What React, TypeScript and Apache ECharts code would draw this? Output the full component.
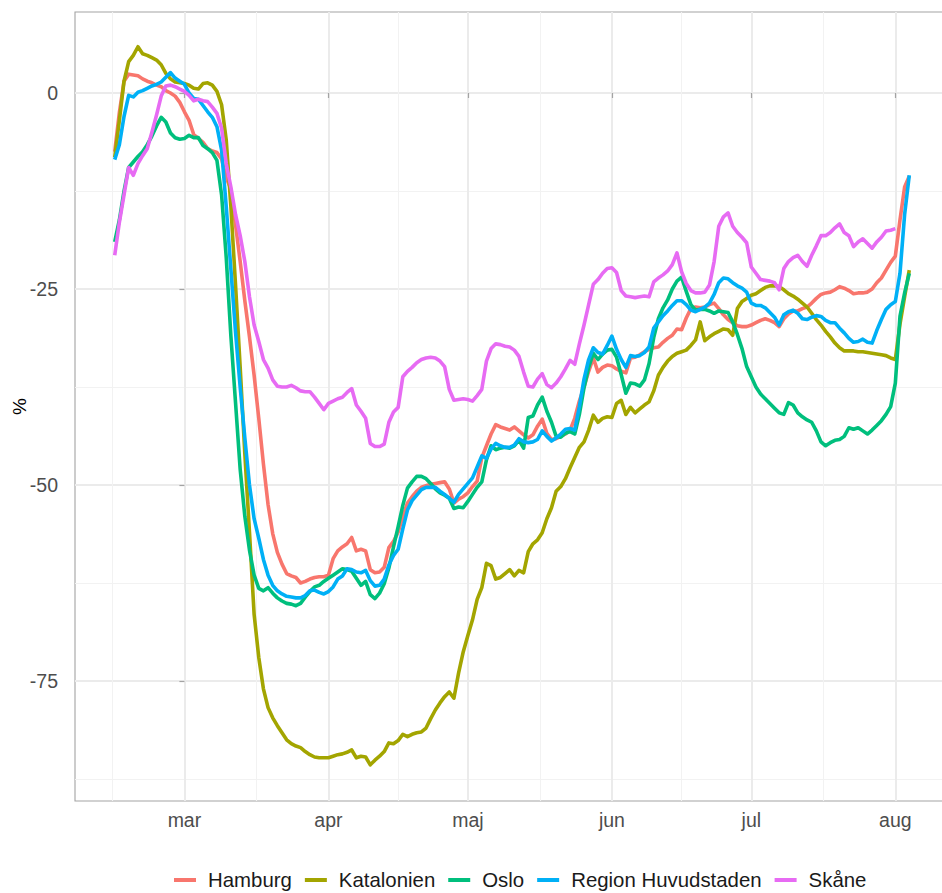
import React, { useEffect, useRef } from "react";
import * as echarts from "echarts";

const FONT = '"Liberation Sans", Arial, Helvetica, sans-serif';

// Daily values, first day 2020-02-15. The x axis counts days from 2020-03-01.
const DAY_MS = 86400000;
const ORIGIN = Date.UTC(2020, 2, 1);
const FIRST_DAY = Date.UTC(2020, 1, 15);

const seriesNames = ["Hamburg", "Katalonien", "Oslo", "Region Huvudstaden", "Skåne"];
const seriesColors = ["#F8766D", "#A3A500", "#00BF7D", "#00B0F6", "#E76BF3"];

const hamburg = [
  -7.5, -2.5, 1.5, 2.4, 2.3, 2.2, 1.8, 1.5, 1.3, 1.0,
  0.8, 0.3, 0.0, -0.4, -1.2, -2.4, -3.5, -5.3, -5.8, -6.3,
  -7.1, -7.4, -7.6, -8.4, -10.8, -12.3, -16.8, -21.5, -26.5, -31.1,
  -36.0, -41.5, -47.3, -52.5, -56.2, -58.6, -60.1, -61.3, -61.6, -61.8,
  -62.5, -62.3, -62.0, -61.8, -61.7, -61.7, -61.5, -59.4, -58.4, -57.9,
  -57.5, -56.7, -58.4, -58.2, -58.4, -60.8, -61.2, -61.1, -60.5, -58.0,
  -57.2, -56.0, -54.1, -52.3, -51.5, -50.8, -50.3, -50.1, -49.9, -49.8,
  -49.7, -49.6, -50.5, -52.3, -51.8, -51.5, -51.0, -50.2, -49.5, -46.5,
  -45.0, -43.5, -42.3, -42.6, -42.8, -43.0, -42.6, -43.1, -43.6, -44.0,
  -43.6, -42.5, -41.6, -43.4, -44.2, -44.1, -43.8, -43.5, -43.0, -41.5,
  -39.3, -37.5, -35.5, -33.8, -35.6, -35.0, -34.7, -34.8, -35.2, -35.5,
  -35.7, -33.8, -33.7, -33.4, -33.0, -32.7, -32.5, -32.4, -31.8, -31.3,
  -30.9, -30.1, -30.2, -28.7, -27.5, -27.3, -27.4, -27.3, -27.0, -26.8,
  -27.5, -28.3, -28.9, -29.3, -29.7, -29.8, -29.8, -29.6, -29.3, -29.0,
  -28.8, -29.0, -29.3, -29.8, -28.8, -28.2, -27.8, -27.8, -27.5, -27.3,
  -26.8, -26.2, -25.7, -25.5, -25.4, -25.1, -24.7, -24.9, -25.2, -25.6,
  -25.5, -25.5, -25.4, -25.0, -24.2, -23.6, -22.6, -21.6, -20.8, -16.2,
  -12.0, -10.6,
];

const katalonien = [
  -8.2, -3.5, 1.5, 4.0, 4.8, 5.9, 5.0, 4.8, 4.5, 4.2,
  3.6, 2.5, 1.8, 1.4, 1.3, 1.2, 1.0, 0.6, 0.5, 1.2,
  1.3, 1.0, 0.2, -1.5, -6.0, -14.5, -24.5, -35.0, -46.0, -56.0,
  -66.5, -72.0, -76.0, -78.4, -79.7, -80.7, -81.6, -82.5, -83.0, -83.3,
  -83.5, -84.0, -84.4, -84.7, -84.8, -84.8, -84.8, -84.6, -84.4, -84.3,
  -84.1, -83.8, -84.8, -84.6, -84.7, -85.7, -85.1, -84.6, -84.0, -82.9,
  -83.0, -82.6, -81.8, -82.1, -81.8, -81.6, -81.5, -81.0, -79.8, -78.7,
  -77.8, -77.0, -76.4, -77.2, -74.0, -71.3, -69.2, -67.2, -64.6, -63.1,
  -60.0, -60.3, -62.0, -61.8, -61.3, -60.8, -61.6, -60.9, -61.2, -58.5,
  -57.5, -57.0, -56.1, -54.3, -52.9, -50.8, -50.2, -49.2, -47.8, -46.5,
  -45.2, -44.5, -43.0, -41.1, -42.0, -41.5, -41.3, -41.4, -39.6, -39.2,
  -41.0, -40.1, -40.8, -40.3, -39.8, -39.4, -38.0, -36.0, -35.0, -34.2,
  -33.6, -33.2, -33.0, -32.8, -32.2, -31.5, -29.2, -31.6, -31.1, -30.7,
  -30.4, -30.1, -30.2, -30.9, -27.5, -26.6, -26.2, -25.8, -25.6, -25.2,
  -24.8, -24.6, -24.6, -24.7, -25.1, -25.6, -25.9, -26.3, -26.8, -27.3,
  -28.1, -28.9, -29.6, -30.4, -31.1, -31.9, -32.5, -32.9, -32.9, -32.9,
  -33.0, -33.0, -33.1, -33.2, -33.3, -33.4, -33.5, -33.8, -34.0, -29.5,
  -26.0, -22.6,
];

const oslo = [
  -19.0, -16.2, -12.5, -9.5, -8.8, -8.1, -7.5, -6.6, -5.5, -4.2,
  -3.1, -3.7, -5.1, -5.7, -5.9, -5.8, -5.4, -5.7, -5.7, -6.7,
  -7.1, -7.6, -8.6, -13.0, -21.0, -31.0, -39.5, -48.0, -54.0, -58.3,
  -61.5, -63.2, -63.5, -63.1, -63.8, -64.4, -64.8, -65.1, -65.2, -65.4,
  -65.1, -64.3, -63.6, -63.0, -62.8, -62.3, -61.9, -61.5, -61.1, -60.7,
  -60.8, -61.0, -61.9, -62.8, -62.3, -64.0, -64.5, -63.8, -62.6, -60.6,
  -57.9, -55.3, -52.6, -50.4, -49.6, -48.9, -48.9, -49.2, -49.8, -50.5,
  -51.0, -51.3, -51.7, -53.0, -52.8, -52.9, -52.1, -51.2, -50.3, -49.6,
  -46.8, -45.0, -45.5, -45.3, -45.2, -45.3, -45.0, -44.3, -45.3, -41.4,
  -41.2, -39.8, -38.8, -40.6, -42.0, -43.8, -43.9, -43.4, -43.2, -43.5,
  -41.0, -37.6, -35.0, -33.2, -34.0, -33.3, -32.8, -32.7, -33.7, -35.9,
  -38.3, -37.0, -37.1, -37.4, -36.6, -34.5, -31.2, -28.8, -27.4, -26.4,
  -25.0, -24.0, -23.5, -25.3, -27.0, -27.7, -27.6, -27.6, -27.8, -28.1,
  -27.8, -27.9, -28.0, -29.2, -30.8, -32.6, -34.9, -36.2, -37.5, -38.4,
  -39.0, -39.6, -40.2, -40.8, -41.0, -39.5, -39.8, -40.8, -41.3, -41.7,
  -42.0, -43.1, -44.5, -45.0, -44.6, -44.3, -44.2, -43.8, -42.7, -42.9,
  -42.7, -43.1, -43.5, -43.0, -42.4, -41.8, -41.0, -40.0, -37.0, -28.5,
  -25.5, -23.0,
];

const huvudstaden = [
  -8.5, -6.6, -3.0, -0.3, -0.5, 0.1, 0.3, 0.6, 0.9, 1.1,
  1.4, 2.0, 2.6, 1.9, 1.5, 1.1, 0.0, -0.7, -0.8, -1.6,
  -2.4, -3.1, -4.3, -7.3, -14.5, -22.5, -30.5, -37.5, -44.0, -50.0,
  -54.3, -56.8, -59.5, -61.5, -62.8, -63.5, -63.9, -64.2, -64.3, -64.4,
  -64.4, -64.1, -63.5, -63.4, -63.7, -63.9, -63.6, -63.0, -62.0, -61.6,
  -60.7, -60.8, -61.1, -61.2, -60.9, -62.2, -62.9, -62.8, -62.0, -60.2,
  -59.0, -58.2, -55.6, -53.2, -52.0, -51.3, -50.6, -50.3, -50.3, -50.3,
  -50.8, -51.2, -51.7, -52.2, -51.2, -50.5, -49.8, -49.1, -47.7, -46.3,
  -46.6, -45.4, -44.7, -45.0, -45.2, -45.2, -44.9, -44.1, -44.5, -44.6,
  -44.5, -44.2, -43.1, -43.8, -44.4, -44.0, -43.5, -42.9, -42.8, -43.0,
  -40.0, -36.5, -34.0, -32.5, -33.1, -33.3, -32.2, -31.0, -32.7, -34.0,
  -35.0, -33.5, -33.6, -33.5, -33.1, -32.4, -30.0, -29.2, -28.4, -27.8,
  -27.1, -26.5, -26.5, -27.0, -27.7, -27.9, -27.6, -27.3, -26.8, -25.7,
  -24.2, -23.6, -23.7, -24.2, -24.6, -24.9, -25.4, -26.8, -27.1, -27.1,
  -27.4, -28.0, -28.6, -29.6, -28.3, -27.9, -27.7, -28.1, -28.8, -28.9,
  -28.6, -28.4, -28.5, -29.0, -29.3, -29.3, -30.0, -30.6, -31.3, -31.8,
  -31.7, -31.4, -31.8, -31.9, -30.3, -28.9, -27.6, -27.0, -26.6, -23.0,
  -15.5, -10.5,
];

const skane = [
  -20.7, -16.5, -13.0, -9.5, -10.5, -9.0, -8.0, -7.1, -5.0, -2.8,
  -0.4, 0.9, 1.0, 0.8, 0.5, 0.2, -0.3, -1.0, -0.8, -1.0,
  -1.1, -1.8, -2.6, -4.5, -9.0, -12.0, -15.5, -18.2, -21.5, -26.0,
  -29.6, -31.7, -34.0, -35.1, -36.6, -37.4, -37.5, -37.5, -37.3, -37.6,
  -38.0, -38.1, -38.1, -38.8, -39.6, -40.4, -39.6, -39.3, -39.0, -38.8,
  -38.2, -37.7, -39.8, -40.6, -41.5, -44.7, -45.1, -45.1, -44.8, -42.0,
  -40.7, -40.1, -36.2, -35.5, -35.0, -34.4, -34.0, -33.8, -33.7, -33.8,
  -34.2, -34.9, -37.8, -39.2, -39.1, -39.0, -39.1, -39.3, -38.6, -37.8,
  -34.2, -32.6, -32.0, -32.1, -32.3, -32.4, -32.8, -33.6, -35.6, -37.4,
  -37.5, -36.5, -35.8, -37.2, -37.6, -37.0, -36.2, -35.2, -34.1, -34.6,
  -32.0, -29.6, -27.0, -24.4, -23.8, -23.0, -22.4, -22.3, -22.9, -25.2,
  -25.9, -26.0, -26.1, -26.0, -25.9, -26.0, -24.1, -23.6, -23.2, -22.7,
  -21.9, -20.4, -22.8, -24.3, -25.2, -25.5, -25.5, -25.4, -24.5, -21.5,
  -17.0, -15.8, -15.3, -17.0, -17.8, -18.4, -19.1, -22.2, -23.0, -23.8,
  -23.9, -24.0, -24.2, -25.1, -22.4, -21.5, -21.0, -20.7, -21.5, -22.1,
  -20.7, -19.5, -18.2, -18.2, -17.8, -17.2, -16.7, -17.8, -18.2, -19.6,
  -19.0, -18.6, -19.2, -19.8, -19.0, -18.4, -17.6, -17.5, -17.3,
];

const seriesValues = [hamburg, katalonien, oslo, huvudstaden, skane];

const dayOf = (y: number, m: number, d: number, h = 0) => (Date.UTC(y, m, d, h) - ORIGIN) / DAY_MS;

// Axis breaks (month starts) and ggplot-style minor breaks (midpoints)
const monthLabels = ["jan", "feb", "mar", "apr", "maj", "jun", "jul", "aug", "sep", "okt", "nov", "dec"];
const monthTicks = [
  dayOf(2020, 2, 1),
  dayOf(2020, 3, 1),
  dayOf(2020, 4, 1),
  dayOf(2020, 5, 1),
  dayOf(2020, 6, 1),
  dayOf(2020, 7, 1),
];
const minorMonthTicks = [
  dayOf(2020, 1, 14, 12),
  dayOf(2020, 2, 16, 12),
  dayOf(2020, 3, 16, 0),
  dayOf(2020, 4, 16, 12),
  dayOf(2020, 5, 16, 0),
  dayOf(2020, 6, 16, 12),
];
const X_MIN = dayOf(2020, 1, 6) + 0.45;
const X_MAX = dayOf(2020, 7, 12) + 0.55;

const yTicks = [-75, -50, -25, 0];
const yMinorTicks = [-87.5, -62.5, -37.5, -12.5];
const Y_MIN = -90.31;
const Y_MAX = 10.33;

function toPoints(vals: number[]) {
  const first = (FIRST_DAY - ORIGIN) / DAY_MS;
  return vals.map((v, i) => [first + i, v]);
}

function monthName(v: number) {
  return monthLabels[new Date(ORIGIN + Math.round(v) * DAY_MS).getUTCMonth()];
}

export default function App() {
  const ref = useRef<HTMLDivElement>(null);

  useEffect(() => {
    if (!ref.current) return;
    const chart = echarts.init(ref.current, null, { renderer: "svg" });
    const majorGrid = { color: "#EBEBEB", width: 2 };
    const minorGrid = { color: "#F2F2F2", width: 1.1 };
    const tickStyle = { color: "#A3A3A3", width: 1.2 };

    chart.setOption({
      animation: false,
      backgroundColor: "#FFFFFF",
      color: seriesColors,
      textStyle: { fontFamily: FONT },
      grid: {
        left: 75,
        top: 12,
        width: 874,
        height: 789,
        containLabel: false,
        outerBoundsMode: "none",
        show: true,
        borderColor: "#A3A3A3",
        borderWidth: 1.1,
        backgroundColor: "rgba(0,0,0,0)",
      },
      legend: {
        left: 169,
        top: 865,
        icon: "rect",
        itemWidth: 22,
        itemHeight: 4,
        itemGap: 13,
        selectedMode: false,
        data: seriesNames,
        textStyle: { fontSize: 20.4, color: "#1A1A1A", fontFamily: FONT, padding: [0, 0, 0, 7] },
      },
      xAxis: [
        {
          type: "value",
          min: X_MIN,
          max: X_MAX,
          axisLine: { show: false },
          axisTick: { show: true, length: 5, lineStyle: tickStyle, customValues: monthTicks },
          axisLabel: {
            customValues: monthTicks,
            formatter: (v: number) => monthName(v),
            fontSize: 19.5,
            color: "#4D4D4D",
            fontFamily: FONT,
            margin: 9,
          },
          splitLine: { show: true, lineStyle: majorGrid },
        },
        {
          type: "value",
          min: X_MIN,
          max: X_MAX,
          axisLine: { show: false },
          axisTick: { show: false, customValues: minorMonthTicks },
          axisLabel: { show: false, customValues: minorMonthTicks },
          splitLine: { show: true, lineStyle: minorGrid },
        },
      ],
      yAxis: [
        {
          type: "value",
          min: Y_MIN,
          max: Y_MAX,
          name: "%",
          nameLocation: "middle",
          nameGap: 46,
          nameMoveOverlap: false,
          nameTextStyle: { fontSize: 19, color: "#000000", fontFamily: FONT },
          axisLine: { show: false },
          axisTick: { show: true, length: 5, lineStyle: tickStyle, customValues: yTicks },
          axisLabel: {
            customValues: yTicks,
            fontSize: 19.5,
            color: "#4D4D4D",
            fontFamily: FONT,
            margin: 17,
          },
          splitLine: { show: true, lineStyle: majorGrid },
        },
        {
          type: "value",
          min: Y_MIN,
          max: Y_MAX,
          axisLine: { show: false },
          axisTick: { show: false, customValues: yMinorTicks },
          axisLabel: { show: false, customValues: yMinorTicks },
          splitLine: { show: true, lineStyle: minorGrid },
        },
      ],
      series: seriesNames.map((name, i) => ({
        name,
        type: "line",
        xAxisIndex: 0,
        yAxisIndex: 0,
        data: toPoints(seriesValues[i]),
        showSymbol: false,
        symbol: "none",
        silent: true,
        emphasis: { disabled: true },
        lineStyle: { width: 3.6, color: seriesColors[i], join: "round", cap: "butt" },
        itemStyle: { color: seriesColors[i] },
      })),
    });

    return () => chart.dispose();
  }, []);

  return (
    <div
      ref={ref}
      style={{ position: "absolute", left: 0, top: 0, width: 942, height: 893, overflow: "hidden" }}
    />
  );
}
